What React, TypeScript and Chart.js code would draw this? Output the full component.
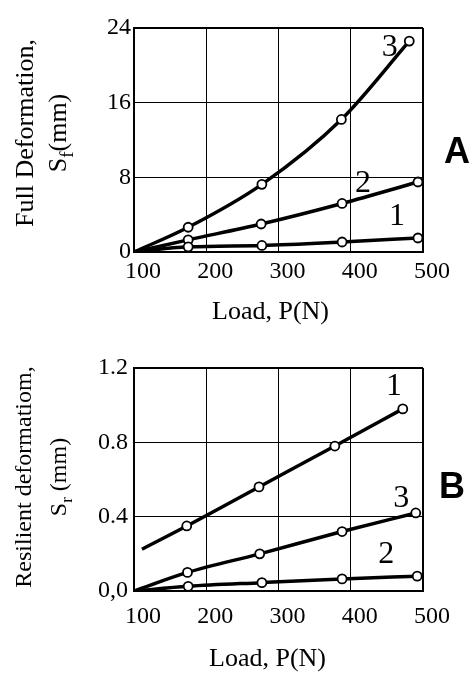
import React, { useEffect, useRef } from 'react';
import { Chart, registerables } from 'chart.js';

Chart.register(...registerables);

// ---------- DATA ----------
// Chart A: Full deformation S_f (mm) vs Load P (N)
const a1Load = [100, 175, 277, 388, 493];
const a1Val = [0, 0.55, 0.7, 1.07, 1.5];
const a2Load = [100, 175, 276, 388, 493];
const a2Val = [0, 1.3, 3.0, 5.2, 7.5];
const a3Load = [100, 175, 277, 387, 481];
const a3Val = [0, 2.65, 7.25, 14.2, 22.6];

// Chart B: Resilient deformation S_r (mm) vs Load P (N)
const b1Load = [111, 173, 273, 378, 472];
const b1Val = [0.225, 0.35, 0.56, 0.78, 0.98];
const b2Load = [100, 175, 277, 388, 492];
const b2Val = [0, 0.025, 0.045, 0.065, 0.08];
const b3Load = [100, 174, 274, 388, 490];
const b3Val = [0, 0.1, 0.2, 0.32, 0.42];

// curve number labels (data coordinates)
const aLabelText = ['3', '2', '1'];
const aLabelLoad = [454, 417, 464];
const aLabelVal = [21.0, 6.4, 2.9];
const bLabelText = ['1', '3', '2'];
const bLabelLoad = [460, 470, 449];
const bLabelVal = [1.055, 0.452, 0.151];

const xTicks = [100, 200, 300, 400, 500];
const aYTicks = [0, 8, 16, 24];
const bYTicks = [0, 0.4, 0.8, 1.2];

const SERIF = '"Liberation Serif", "Times New Roman", serif';
const SANS = '"Liberation Sans", Arial, sans-serif';

type Series = { xs: number[]; ys: number[]; firstMarker: boolean };

type PanelSpec = {
  series: Series[];
  yTicks: number[];
  yTickFmt: (v: number) => string;
  padTop: number;
  xAxisH: number;
  xTickPad: number;
  yTickPad: number;
  title1: string;
  title1Size: number;
  title1X: number;
  sub: string;
  subSpace: string;
  title2Size: number;
  title2X: number;
  titleCY: number;
  xTitleY: number;
  xTitleDX: number;
  letter: string;
  letterDX: number;
  letterY: number;
  labelText: string[];
  labelLoad: number[];
  labelVal: number[];
};

function drawRotatedParts(
  ctx: CanvasRenderingContext2D,
  parts: { text: string; font: string; dy: number }[],
  baseX: number,
  centerY: number
) {
  ctx.save();
  ctx.translate(baseX, centerY);
  ctx.rotate(-Math.PI / 2);
  ctx.textBaseline = 'alphabetic';
  ctx.textAlign = 'left';
  let total = 0;
  const widths = parts.map((p) => {
    ctx.font = p.font;
    const w = ctx.measureText(p.text).width;
    total += w;
    return w;
  });
  let x = -total / 2;
  parts.forEach((p, i) => {
    ctx.font = p.font;
    ctx.fillText(p.text, x, p.dy);
    x += widths[i];
  });
  ctx.restore();
}

function makePlugin(spec: PanelSpec) {
  return {
    id: 'panelTexts',
    afterDraw(chart: any) {
      const { ctx, chartArea, scales } = chart;
      ctx.save();
      ctx.fillStyle = '#000';
      drawRotatedParts(ctx, [{ text: spec.title1, font: `${spec.title1Size}px ${SERIF}`, dy: 0 }], spec.title1X, spec.titleCY);
      const s2 = spec.title2Size;
      drawRotatedParts(
        ctx,
        [
          { text: 'S', font: `${s2}px ${SERIF}`, dy: 0 },
          { text: spec.sub, font: `${Math.round(s2 * 0.72)}px ${SERIF}`, dy: Math.round(s2 * 0.25) },
          { text: spec.subSpace + '(mm)', font: `${s2}px ${SERIF}`, dy: 0 },
        ],
        spec.title2X,
        spec.titleCY
      );
      ctx.font = `26px ${SERIF}`;
      ctx.textAlign = 'center';
      ctx.textBaseline = 'alphabetic';
      ctx.fillText('Load, P(N)', (chartArea.left + chartArea.right) / 2 + spec.xTitleDX, spec.xTitleY);
      ctx.font = `bold 36px ${SANS}`;
      ctx.fillText(spec.letter, chartArea.right + spec.letterDX, spec.letterY);
      ctx.font = `32px ${SERIF}`;
      spec.labelText.forEach((t, i) => {
        const px = scales.x.getPixelForValue(spec.labelLoad[i]);
        const py = scales.y.getPixelForValue(spec.labelVal[i]);
        ctx.fillText(t, px, py);
      });
      ctx.restore();
    },
  };
}

function Panel({ spec, top }: { spec: PanelSpec; top: number }) {
  const ref = useRef<HTMLCanvasElement | null>(null);
  useEffect(() => {
    if (!ref.current) return;
    const yMax = spec.yTicks[spec.yTicks.length - 1];
    const datasets = spec.series.map((s) => ({
      data: s.xs.map((x, i) => ({ x, y: s.ys[i] })),
      borderColor: '#000',
      borderWidth: 3.5,
      pointRadius: s.xs.map((_, i) => (i === 0 && !s.firstMarker ? 0 : 4.5)),
      pointBackgroundColor: '#fff',
      pointBorderColor: '#000',
      pointBorderWidth: 1.8,
      cubicInterpolationMode: 'monotone' as const,
      fill: false,
    }));
    const chart = new Chart(ref.current, {
      type: 'line',
      data: { datasets },
      plugins: [makePlugin(spec)],
      options: {
        responsive: false,
        animation: false,
        events: [],
        layout: { padding: { top: spec.padTop, right: 47, left: 0, bottom: 0 } },
        plugins: { legend: { display: false }, tooltip: { enabled: false } },
        scales: {
          x: {
            type: 'linear',
            min: xTicks[0],
            max: xTicks[xTicks.length - 1],
            afterFit: (s: any) => {
              s.height = spec.xAxisH;
            },
            afterBuildTicks: (s: any) => {
              s.ticks = xTicks.map((v) => ({ value: v }));
            },
            ticks: {
              padding: spec.xTickPad,
              labelOffset: 9,
              maxRotation: 0,
              autoSkip: false,
              color: '#000',
              font: { family: SERIF, size: 24 },
              callback: (v: any) => String(v),
            },
            grid: {
              color: '#000',
              lineWidth: (c: any) => (c.tick && c.tick.value === 500 ? 2 : 1),
              drawTicks: false,
            },
            border: { color: '#000', width: 2 },
          },
          y: {
            type: 'linear',
            min: 0,
            max: yMax,
            afterFit: (s: any) => {
              s.width = 134;
            },
            afterBuildTicks: (s: any) => {
              s.ticks = spec.yTicks.map((v) => ({ value: v }));
            },
            ticks: {
              padding: spec.yTickPad,
              color: '#000',
              font: { family: SERIF, size: 24 },
              callback: (v: any) => spec.yTickFmt(Number(v)),
            },
            grid: {
              color: '#000',
              lineWidth: (c: any) => (c.tick && Math.abs(c.tick.value - yMax) < 1e-9 ? 2 : 1),
              drawTicks: false,
            },
            border: { color: '#000', width: 2 },
          },
        },
      },
    } as any);
    return () => chart.destroy();
  }, [spec]);
  return (
    <canvas
      ref={ref}
      width={470}
      height={338}
      style={{ position: 'absolute', left: 0, top, width: 470, height: 338, display: 'block' }}
    />
  );
}

const specA: PanelSpec = {
  series: [
    { xs: a1Load, ys: a1Val, firstMarker: false },
    { xs: a2Load, ys: a2Val, firstMarker: false },
    { xs: a3Load, ys: a3Val, firstMarker: false },
  ],
  yTicks: aYTicks,
  yTickFmt: (v) => String(v),
  padTop: 28,
  xAxisH: 86,
  xTickPad: 5,
  yTickPad: 3,
  title1: 'Full Deformation,',
  title1Size: 26,
  title1X: 33,
  sub: 'f',
  subSpace: '',
  title2Size: 26,
  title2X: 66,
  titleCY: 133,
  xTitleY: 319,
  xTitleDX: -8,
  letter: 'A',
  letterDX: 34,
  letterY: 163,
  labelText: aLabelText,
  labelLoad: aLabelLoad,
  labelVal: aLabelVal,
};

const specB: PanelSpec = {
  series: [
    { xs: b1Load, ys: b1Val, firstMarker: false },
    { xs: b2Load, ys: b2Val, firstMarker: false },
    { xs: b3Load, ys: b3Val, firstMarker: false },
  ],
  yTicks: bYTicks,
  yTickFmt: (v) => (v === 0 ? '0,0' : v.toFixed(1)),
  padTop: 30,
  xAxisH: 85,
  xTickPad: 11,
  yTickPad: 6,
  title1: 'Resilient deformatiom,',
  title1Size: 24,
  title1X: 31,
  sub: 'r',
  subSpace: ' ',
  title2Size: 24,
  title2X: 66,
  titleCY: 139,
  xTitleY: 328,
  xTitleDX: -11,
  letter: 'B',
  letterDX: 29,
  letterY: 160,
  labelText: bLabelText,
  labelLoad: bLabelLoad,
  labelVal: bLabelVal,
};

export default function App() {
  return (
    <div style={{ position: 'absolute', left: 0, top: 0, width: 470, height: 676, background: '#fff' }}>
      <Panel spec={specA} top={0} />
      <Panel spec={specB} top={338} />
    </div>
  );
}
